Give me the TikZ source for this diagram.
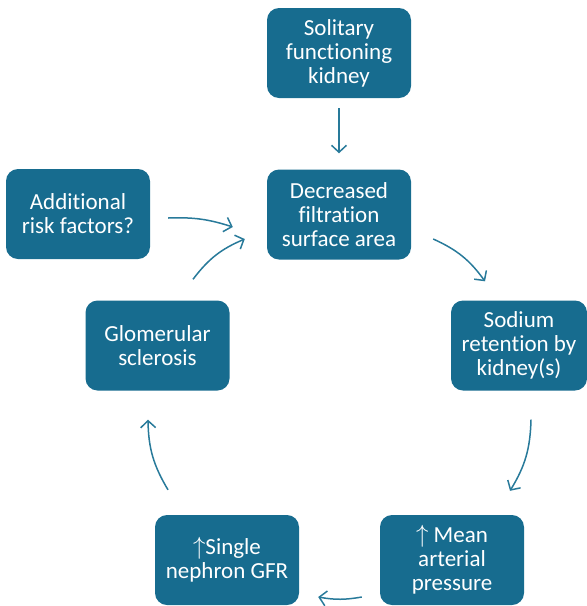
\documentclass[tikz,border=0pt]{standalone}
\usepackage{fontspec}
\setmainfont{Carlito}[Ligatures=NoCommon]
\usetikzlibrary{arrows.meta, calc}
\definecolor{kblue}{HTML}{176C8F}
\definecolor{karrow}{HTML}{287A9A}
\tikzset{
  every picture/.style={x=1pt, y=-1pt},
  box/.style={fill=kblue, text=white, rounded corners=12pt, align=center,
    minimum width=144pt, minimum height=90pt, inner sep=2pt,
    font=\fontsize{23}{24}\selectfont},
  arrow/.style={-{Straight Barb[length=7pt, width=15pt]}, draw=karrow, line width=1.5pt},
}

\begin{document}
\begin{tikzpicture}
  \useasboundingbox (0,0) rectangle (587,606);
  \node[box] (sol) at (339,53) {Solitary\\functioning\\kidney};
  \node[box] (dec) at (339,214.5) {Decreased\\filtration\\surface area};
  \node[box] (add) at (78,214) {Additional\\risk factors?};
  \node[box, minimum width=136pt] (sod) at (519,345.5) {Sodium\\retention by\\kidney(s)};
  \node[box] (glo) at (157.5,345.5) {Glomerular\\sclerosis};
  \node[box] (sng) at (227,560) {$\uparrow$Single\\nephron GFR};
  \node[box] (mean) at (452,560) {$\uparrow$ Mean\\arterial\\pressure};
  % the loop
  \draw[arrow, shorten <=10pt, shorten >=16pt] (sol) -- (dec);
  \draw[arrow] ($(add.east)+(18,4)$) to[bend left=10] ($(dec.west)+(-34,12.5)$);
  \draw[arrow] ($(glo.north)+(35.5,-21)$) to[bend left=15] ($(dec.west)+(-22,24.5)$);
  \draw[arrow] ($(dec.east)+(22,24.5)$) to[bend left=15] ($(sod.north)+(-34,-19)$);
  \draw[arrow] ($(sod.south)+(12,29)$) to[bend left=15] ($(mean.north)+(58,-24)$);
  \draw[arrow] ($(mean.west)+(-18,37)$) to[bend left=10] ($(sng.east)+(19,37)$);
  \draw[arrow] ($(sng.north)+(-59,-25)$) to[bend left=15] ($(glo.south)+(-9.5,29)$);
\end{tikzpicture}
\end{document}
